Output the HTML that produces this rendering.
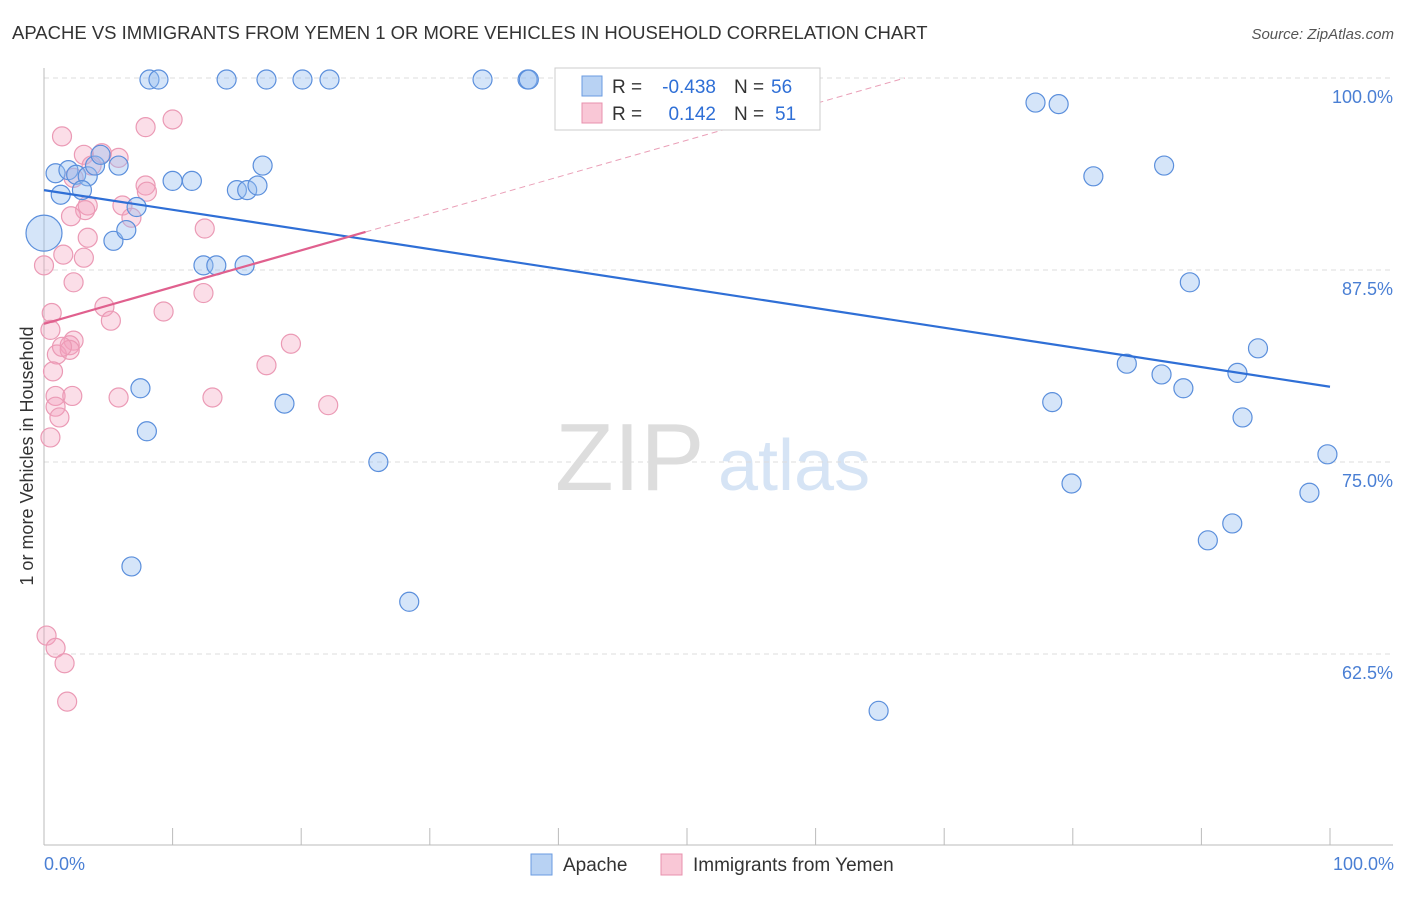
<!DOCTYPE html>
<html><head><meta charset="utf-8"><style>
body{margin:0;background:#fff;font-family:"Liberation Sans",sans-serif;}
svg text{font-family:"Liberation Sans",sans-serif;}
</style></head><body>
<svg id="chart" width="1406" height="892" xmlns="http://www.w3.org/2000/svg">
<text x="12" y="39" font-size="18.5" fill="#333">APACHE VS IMMIGRANTS FROM YEMEN 1 OR MORE VEHICLES IN HOUSEHOLD CORRELATION CHART</text>
<text x="1394" y="39" font-size="15" fill="#555" text-anchor="end" font-style="italic">Source: ZipAtlas.com</text>
<text x="555" y="490" font-size="96" fill="#ddd" font-family="Liberation Serif">ZIP</text>
<text x="718" y="490" font-size="72" fill="#d6e4f5">atlas</text>
<g id="grid"></g>
<g id="marks"></g>
<g id="lines"></g>
<text transform="translate(33,456) rotate(-90)" font-size="18" fill="#333" text-anchor="middle">1 or more Vehicles in Household</text>
<text x="44" y="870" font-size="18" fill="#4a7fd4">0.0%</text>
<text x="1394" y="870" font-size="18" fill="#4a7fd4" text-anchor="end">100.0%</text>
<g>
<rect x="555" y="68" width="265" height="62" fill="#fff" stroke="#ccc"/>
<rect x="582" y="76" width="20" height="20" fill="#b8d2f3" stroke="#6a9be0"/>
<rect x="582" y="103" width="20" height="20" fill="#f9c7d6" stroke="#e890ad"/>
<text x="612" y="93" font-size="19" fill="#333">R =</text>
<text x="716" y="93" font-size="19" fill="#2f6fd6" text-anchor="end">-0.438</text>
<text x="734" y="93" font-size="19" fill="#333">N =</text>
<text x="771" y="93" font-size="19" fill="#2f6fd6">56</text>
<text x="612" y="120" font-size="19" fill="#333">R =</text>
<text x="716" y="120" font-size="19" fill="#2f6fd6" text-anchor="end">0.142</text>
<text x="734" y="120" font-size="19" fill="#333">N =</text>
<text x="775" y="120" font-size="19" fill="#2f6fd6">51</text>
</g>
<g>
<rect x="531" y="854" width="21" height="21" fill="#b8d2f3" stroke="#6a9be0"/>
<text x="563" y="871" font-size="19" fill="#333">Apache</text>
<rect x="661" y="854" width="21" height="21" fill="#f9c7d6" stroke="#e890ad"/>
<text x="693" y="871" font-size="19" fill="#333">Immigrants from Yemen</text>
</g>
</svg>
<script>
const yTicks=[100,87.5,75,62.5];
const yTickLabels=["100.0%","87.5%","75.0%","62.5%"];
const xTicks=[10,20,30,40,50,60,70,80,90,100];
const apacheX=[8.2,8.9,14.2,17.3,20.1,22.2,34.1,37.6,37.7,42.8,77.1,78.9,0.9,1.9,2.5,3.4,1.3,2.95,3.97,4.4,5.8,7.2,5.4,6.4,10.0,11.5,15.0,15.8,16.6,17.0,12.4,13.4,15.6,81.6,87.1,89.1,94.4,84.2,86.9,92.8,88.6,78.4,93.2,99.8,79.9,98.4,92.4,90.5,7.5,8.0,18.7,26.0,6.8,28.4,64.9];
const apacheY=[99.9,99.9,99.9,99.9,99.9,99.9,99.9,99.9,99.9,99.7,98.4,98.3,93.8,94.0,93.7,93.6,92.4,92.7,94.3,95.0,94.3,91.6,89.4,90.1,93.3,93.3,92.7,92.7,93.0,94.3,87.8,87.8,87.8,93.6,94.3,86.7,82.4,81.4,80.7,80.8,79.8,78.9,77.9,75.5,73.6,73.0,71.0,69.9,79.8,77.0,78.8,75.0,68.2,65.9,58.8];
const apacheBig=[0,89.9];
const yemenX=[1.4,7.9,10.0,3.1,4.5,3.7,5.8,2.3,7.9,8.0,3.4,3.2,6.1,6.8,2.1,3.4,12.5,1.5,3.1,0,2.3,12.4,4.7,5.2,9.3,0.6,0.5,2.3,2.0,1.0,2.0,19.2,17.3,0.7,0.9,2.2,5.8,13.1,22.1,0.9,1.2,0.5,0.2,0.9,1.6,1.8,1.4];
const yemenY=[96.2,96.8,97.3,95.0,95.1,94.3,94.8,93.5,93.0,92.6,91.7,91.4,91.7,90.9,91.0,89.6,90.2,88.5,88.3,87.8,86.7,86.0,85.1,84.2,84.8,84.7,83.6,82.9,82.6,82.0,82.3,82.7,81.3,80.9,79.3,79.3,79.2,79.2,78.7,78.6,77.9,76.6,63.7,62.9,61.9,59.4,82.5];
const apacheTrend=[92.7,79.9];
const yemenTrend=[84.0,0.239];
const X=v=>44+v*12.86, Y=v=>78+(100-v)*15.36;
const NS="http://www.w3.org/2000/svg";
function mk(t,a,p){const e=document.createElementNS(NS,t);for(const k in a)e.setAttribute(k,a[k]);p.appendChild(e);return e;}
const grid=document.getElementById('grid'),marks=document.getElementById('marks'),lines=document.getElementById('lines');
yTicks.forEach((v,i)=>{
 const l=mk('line',{x1:44,x2:1393,y1:Y(v),y2:Y(v),stroke:'#ddd','stroke-dasharray':'5,4'},grid);
 
 
 const t=mk('text',{x:1393,y:Y(v)+25,'font-size':18,fill:'#4a7fd4','text-anchor':'end'},grid);
 t.textContent=yTickLabels[i];
 
 
});
const ax=mk('line',{x1:44,x2:44,y1:68,y2:845,stroke:'#bbb'},grid);


const bx=mk('line',{x1:44,x2:1393,y1:845,y2:845,stroke:'#bbb'},grid);


xTicks.forEach(v=>{
 const t=mk('line',{x1:X(v),x2:X(v),y1:828,y2:845,stroke:'#bbb'},grid);
 
 
});
yemenX.forEach((x,i)=>{
 const c=mk('circle',{cx:X(x),cy:Y(yemenY[i]),r:9.5,fill:'rgba(244,160,188,0.35)',stroke:'#eb9ab5','stroke-width':1.2},marks);
 
 
});
apacheX.forEach((x,i)=>{
 const c=mk('circle',{cx:X(x),cy:Y(apacheY[i]),r:9.5,fill:'rgba(150,190,240,0.4)',stroke:'#5b8fdc','stroke-width':1.2},marks);
 
 
});
const big=mk('circle',{cx:X(apacheBig[0]),cy:Y(apacheBig[1]),r:18,fill:'rgba(150,190,240,0.4)',stroke:'#5b8fdc','stroke-width':1.2},marks);


const at=mk('line',{x1:X(0),y1:Y(apacheTrend[0]),x2:X(100),y2:Y(apacheTrend[1]),stroke:'#2f6fd6','stroke-width':2.2},lines);


const xe=(100-yemenTrend[0])/yemenTrend[1];
const yd=mk('line',{x1:X(25),y1:Y(yemenTrend[0]+25*yemenTrend[1]),x2:X(xe),y2:Y(100),stroke:'#eaa0b8','stroke-width':1,'stroke-dasharray':'6,4'},lines);


const ys=mk('line',{x1:X(0),y1:Y(yemenTrend[0]),x2:X(25),y2:Y(yemenTrend[0]+25*yemenTrend[1]),stroke:'#e0608e','stroke-width':2.2},lines);


</script>
</body></html>
